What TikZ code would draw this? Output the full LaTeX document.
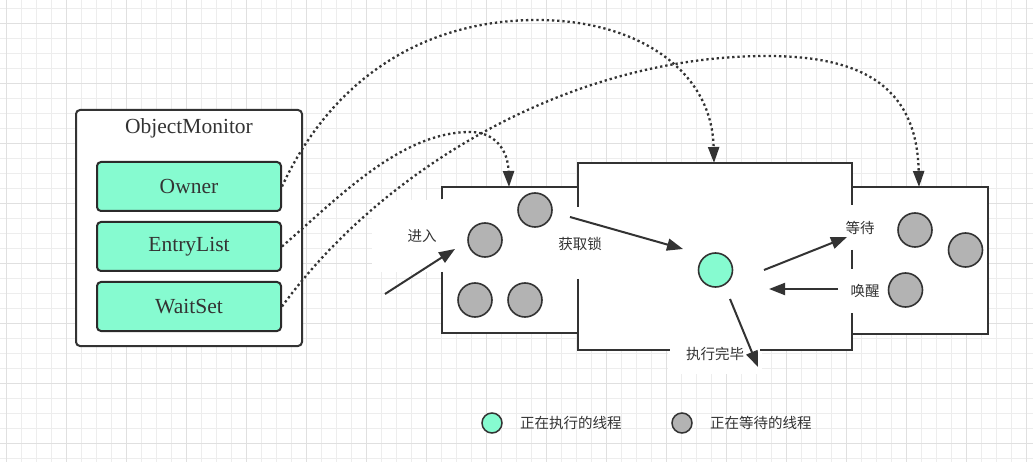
\documentclass[tikz,border=0pt]{standalone}
\usepackage{fontspec}
\setmainfont{Liberation Serif}
\newfontfamily\cjk{Noto Sans CJK SC}
\usetikzlibrary{arrows.meta}
\definecolor{ink}{HTML}{333333}
\definecolor{mint}{HTML}{86FBD0}
\definecolor{greyball}{HTML}{B3B3B3}
\definecolor{gridminor}{HTML}{EDEDED}
\definecolor{gridmajor}{HTML}{E0E0E0}
\begin{document}
\begin{tikzpicture}[x=1pt,y=-1pt,
  frame/.style={draw=ink, line width=2pt},
  field/.style={draw=ink!85!black, line width=2pt, fill=mint, rounded corners=4pt,
    minimum width=184pt, minimum height=49pt, inner sep=0pt,
    font=\fontsize{21.5}{24}\selectfont, text=ink},
  ball/.style={circle, draw=ink, line width=1.6pt, fill=greyball, minimum size=34pt, inner sep=0pt},
  lbl/.style={font=\cjk\fontsize{14.5}{16}\selectfont, text=ink, inner sep=1pt},
  arr/.style={draw=ink, line width=2pt, -{Triangle[length=16pt,width=12pt]}},
  dotarr/.style={draw=ink, line width=2.3pt, dash pattern=on 2.3pt off 2.9pt,
    -{Triangle[length=16pt,width=11pt]}},
  gmin/.style={draw=gridminor, line width=0.8pt},
  gmaj/.style={draw=gridmajor, line width=0.9pt}
]
\useasboundingbox (0,0) rectangle (1033,462);
\fill[white] (0,0) rectangle (1033,462);
% grid
\foreach \x in {6,21,...,1031} \draw[gmin] (\x,0) -- (\x,462);
\foreach \y in {8,23,...,461} \draw[gmin] (0,\y) -- (1033,\y);
\foreach \x in {6,66,...,1031} \draw[gmaj] (\x,0) -- (\x,462);
\foreach \y in {23,83,...,461} \draw[gmaj] (0,\y) -- (1033,\y);

% ObjectMonitor
\node[draw=ink, line width=2pt, fill=white, rounded corners=4pt, minimum width=226pt,
  minimum height=236pt, inner sep=0pt] (om) at (189,228) {};
\node[font=\fontsize{21.5}{24}\selectfont, text=ink] (omtitle) at (189,128) {ObjectMonitor};
\node[field] (owner) at (189,186.5) {Owner};
\node[field] (entry) at (189,246.5) {EntryList};
\node[field] (waitset) at (189,306.5) {WaitSet};

% white areas
\fill[white] (442,187) rectangle (578,333);
\fill[white] (578,163) rectangle (852,350);
\fill[white] (852,187) rectangle (988,334);
\fill[white] (372,200) rectangle (442,272);
\fill[white] (668,340) rectangle (762,374);

% walls
\draw[frame] (442,199) -- (442,187) -- (578,187);
\draw[frame] (442,272) -- (442,333) -- (578,333);
\draw[frame] (578,207) -- (578,163) -- (852,163) -- (852,205);
\draw[frame] (578,279) -- (578,350) -- (670,350);
\draw[frame] (760,350) -- (852,350) -- (852,313);
\draw[frame] (852,250) -- (852,269);
\draw[frame] (852,187) -- (988,187) -- (988,334) -- (852,334);

\coordinate (leftTop) at (509,187);
\coordinate (midTop) at (714,163);
\coordinate (rightTop) at (919,187);

% threads
\node[ball] (w1) at (535,210) {};
\node[ball] (w2) at (485,240) {};
\node[ball] (w3) at (475,300) {};
\node[ball] (w4) at (525,300) {};
\node[ball, fill=mint] (run) at (715.5,270) {};
\node[ball] (s1) at (915,230) {};
\node[ball] (s2) at (965.5,250) {};
\node[ball] (s3) at (905.5,290) {};

% labels
\node[lbl] (lenter) at (422,236) {进入};
\node[lbl] (lacq) at (580,244) {获取锁};
\node[lbl] (lwait) at (860,228) {等待};
\node[lbl] (lwake) at (865,291) {唤醒};
\node[lbl] (ldone) at (715,354) {执行完毕};

% solid arrows
\coordinate (enterS) at (385,294); \coordinate (enterE) at (455,249);
\coordinate (acqS) at (570,217); \coordinate (acqE) at (683,249);
\coordinate (waitS) at (764,270); \coordinate (waitE) at (847,237);
\coordinate (wakeS) at (838,289); \coordinate (wakeE) at (769,289);
\coordinate (doneS) at (730,299); \coordinate (doneE) at (758,367);
\draw[arr] (enterS) -- (enterE);
\draw[arr] (acqS) -- (acqE);
\draw[arr] (waitS) -- (waitE);
\draw[arr] (wakeS) -- (wakeE);
\draw[arr] (doneS) -- (doneE);

% dotted links
\draw[dotarr] (owner.east) .. controls (329,85) and (417,20) .. (537,20)
  .. controls (637,20) and (712,70) .. (midTop);
\draw[dotarr] (entry.east) .. controls (336,200) and (400,132) .. (470,132)
  .. controls (495,132) and (508,150) .. (leftTop);
\draw[dotarr] (waitset.east) .. controls (380,171.5) and (567,56) .. (767,56)
  .. controls (867,56) and (917,90) .. (rightTop);

% legend
\node[ball, fill=mint, minimum size=20pt, line width=1.5pt] (lg1) at (492,423) {};
\node[lbl, anchor=west] (lg1t) at (519,423) {正在执行的线程};
\node[ball, minimum size=20pt, line width=1.5pt] (lg2) at (682,423) {};
\node[lbl, anchor=west] (lg2t) at (709,423) {正在等待的线程};
\end{tikzpicture}
\end{document}
